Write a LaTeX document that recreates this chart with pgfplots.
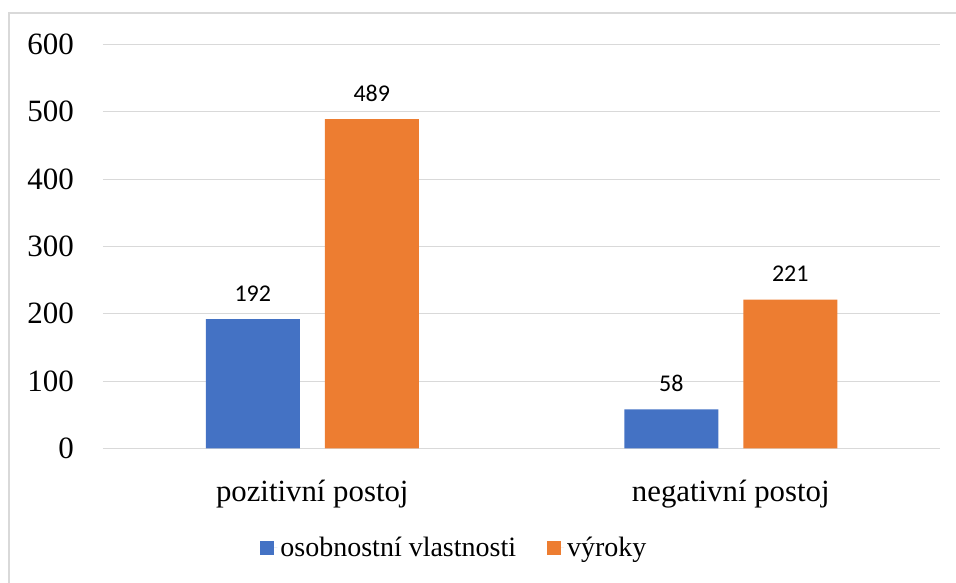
\documentclass[border=0pt]{standalone}
\usepackage{pgfplots}
\pgfplotsset{compat=1.18}
\usepackage{fontspec}
\setmainfont{Liberation Serif}
\newfontfamily\calib{Carlito}
\definecolor{cblue}{HTML}{4472C4}
\definecolor{corange}{HTML}{ED7D31}
\definecolor{cgrid}{HTML}{D9D9D9}
\begin{document}
\begin{tikzpicture}[x=1pt,y=1pt]
\useasboundingbox (0,0) rectangle (956,583);
\draw[cgrid,line width=1.5pt] (9,0) -- (9,570) -- (956,570);
\begin{axis}[
  at={(103pt,134.5pt)}, anchor=south west,
  scale only axis, width=837pt, height=404pt,
  xmin=-0.5, xmax=1.5, ymin=0, ymax=600,
  ybar=25pt, bar width=94pt,
  xtick={0,1}, xticklabels={pozitivní postoj, negativní postoj},
  ytick={0,100,...,600},
  /pgf/number format/assume math mode=true,
  ymajorgrids, grid style={cgrid,line width=1.3pt},
  axis line style={draw=none}, tick style={draw=none},
  yticklabel style={font=\fontsize{31}{36}\selectfont, anchor=east, inner sep=0pt, xshift=-29pt},
  xticklabel style={font=\fontsize{30.8}{36}\selectfont, anchor=base, inner sep=0pt, yshift=-49pt},
  nodes near coords,
  every node near coord/.append style={font=\calib\fontsize{24}{28}\selectfont, anchor=south, inner sep=0pt, yshift=17.5pt, text=black},
  legend columns=2,
  legend style={draw=none, at={(0.4205,-0.246)}, anchor=center, font=\fontsize{28}{33}\selectfont,
    /tikz/every even column/.append style={column sep=28pt}, inner sep=0pt, nodes={inner sep=3pt}},
  legend image code/.code={\fill[#1] (0pt,-7pt) rectangle (14pt,7pt); \path (0pt,0pt) -- (17pt,0pt);},
]
\addplot[fill=cblue, draw=none] coordinates {(0,192) (1,58)};
\addplot[fill=corange, draw=none] coordinates {(0,489) (1,221)};
\legend{osobnostní vlastnosti, výroky}
\end{axis}
\end{tikzpicture}
\end{document}
